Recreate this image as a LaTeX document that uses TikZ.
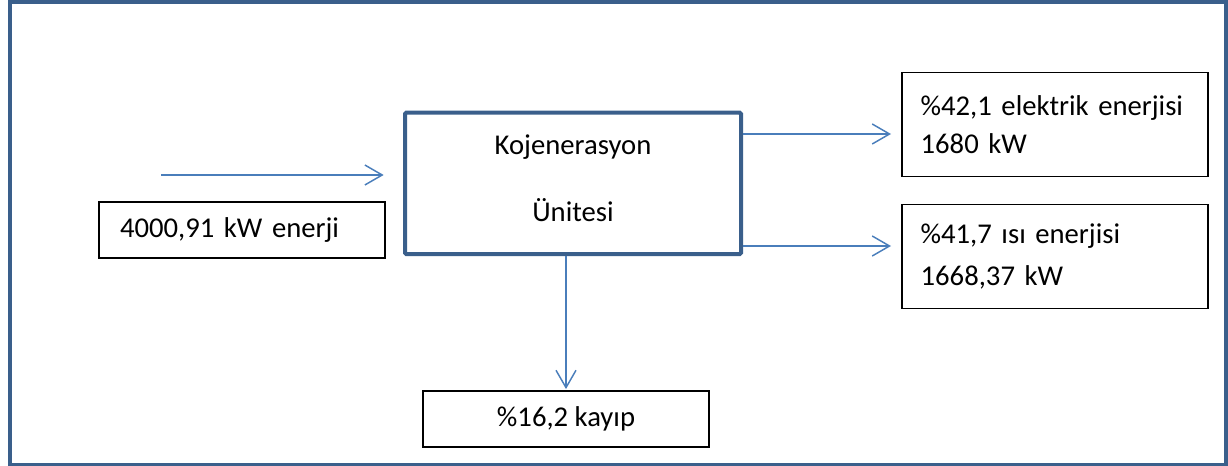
\documentclass[tikz,border=0pt]{standalone}
\usepackage{fontspec}
\setmainfont{Carlito}
\usetikzlibrary{arrows.meta}
\definecolor{frameblue}{HTML}{3A5F8B}
\definecolor{flowblue}{HTML}{4A7EBB}
\tikzset{
    every node/.style={rectangle, inner sep=0mm, font=\fontsize{21.5}{29}\selectfont}
}
\tikzset{
    box/.style={draw, line width=0.9pt, minimum width=214.5pt, minimum height=42pt},
    outbox/.style={draw, line width=0.9pt, minimum height=78pt, text width=201.5pt, inner xsep=14pt, align=left},
    unitbox/.style={draw=frameblue, line width=3pt, rounded corners=1pt, minimum width=252pt, minimum height=106pt, align=center},
    flow/.style={draw=flowblue, line width=1.1pt, -{Straight Barb[length=13pt, width=15pt]}}
}
\newcommand{\uptext}[1]{\raisebox{3.75pt}[\height][\depth]{#1}}

\begin{document}
\begin{tikzpicture}[x=0.75pt, y=-0.75pt]
        \useasboundingbox (0,0) rectangle (1228,466);
        \draw[frameblue, line width=3pt] (9.5,2) rectangle (1226,464.5);
        \node (unit) [unitbox] at (573, 183.4) {\uptext{Kojenerasyon}\\[21pt]\uptext{Ünitesi}};
        \node (input) [box, text width=183pt, inner xsep=15.75pt, align=left] at (242, 230) {4000,91 kW enerji};
        \node (elk) [outbox] at (1055, 124.5) {\%42,1 elektrik enerjisi\\1680 kW};
        \node (isi) [outbox] at (1055, 256.5) {\%41,7 ısı enerjisi\\[2pt]1668,37 kW};
        \node (kayip) [box] at (566, 419) {\%16,2 kayıp};
        \coordinate (src) at (161, 175);
        \draw[flow, shorten >=14.5pt] (src) -- (src -| unit.west);
        \draw[flow, shorten >=7.8pt] (unit.east |- 0,134) -- (elk.west |- 0,134);
        \draw[flow, shorten >=7.8pt] (unit.east |- 0,246) -- (isi.west |- 0,246);
        \draw[flow, shorten >=1pt] (unit.south -| kayip.north) -- (kayip.north);
\end{tikzpicture}
\end{document}
